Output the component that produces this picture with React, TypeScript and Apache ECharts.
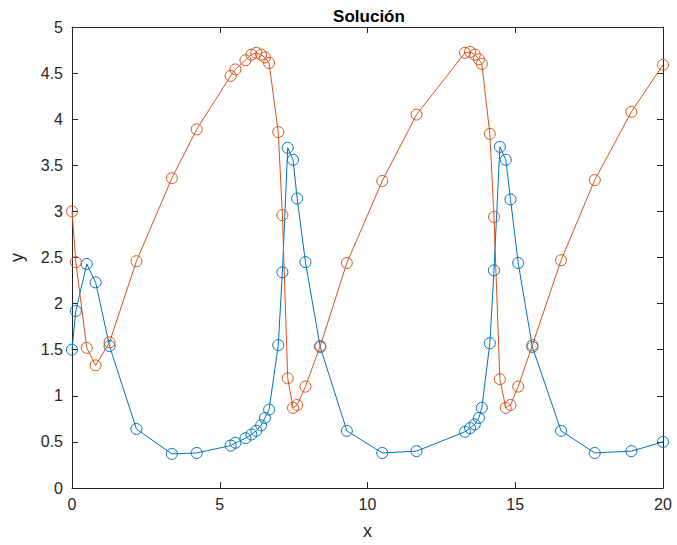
import React, { useEffect, useRef } from "react";
import * as echarts from "echarts";

const xValues = [
  0, 0.13, 0.5, 0.8, 1.27, 2.18, 3.38, 4.22, 5.37, 5.53, 5.87, 6.07, 6.24, 6.4,
  6.53, 6.67, 6.98, 7.12, 7.3, 7.48, 7.62, 7.9, 8.4, 9.3, 10.5, 11.66, 13.3,
  13.47, 13.63, 13.77, 13.87, 14.14, 14.28, 14.48, 14.68, 14.84, 15.1, 15.58,
  16.55, 17.69, 18.93, 20,
];
const y1Values = [
  1.5, 1.92, 2.43, 2.23, 1.54, 0.64, 0.37, 0.38, 0.46, 0.49, 0.54, 0.58, 0.62,
  0.68, 0.76, 0.85, 1.55, 2.34, 3.69, 3.56, 3.14, 2.45, 1.53, 0.62, 0.38, 0.4,
  0.61, 0.65, 0.69, 0.76, 0.87, 1.57, 2.36, 3.7, 3.56, 3.13, 2.44, 1.53, 0.62,
  0.38, 0.4, 0.5,
];
const y2Values = [
  3.0, 2.45, 1.52, 1.33, 1.58, 2.46, 3.36, 3.89, 4.47, 4.54, 4.64, 4.7, 4.72,
  4.7, 4.67, 4.61, 3.86, 2.96, 1.19, 0.87, 0.9, 1.1, 1.54, 2.44, 3.33, 4.05,
  4.72, 4.73, 4.7, 4.65, 4.6, 3.84, 2.94, 1.18, 0.87, 0.9, 1.1, 1.55, 2.47,
  3.34, 4.08, 4.59,
];

const BLUE = "#0072BD";
const ORANGE = "#D95319";
const AXIS = "#262626";
const FONT = "'Liberation Sans', Arial, sans-serif";

export default function App() {
  const ref = useRef<HTMLDivElement>(null);
  useEffect(() => {
    if (!ref.current) return;
    const chart = echarts.init(ref.current, undefined, { renderer: "svg" });
    const mk = (ys: number[], color: string) => ({
      type: "line",
      data: xValues.map((x, i) => [x, ys[i]]),
      symbol: "circle",
      symbolSize: 11,
      showSymbol: true,
      lineStyle: { color, width: 1 },
      itemStyle: { color: "rgba(0,0,0,0)", borderColor: color, borderWidth: 1 },
      emphasis: { disabled: true },
    });
    const axisBase = {
      axisLine: { show: true, onZero: false, lineStyle: { color: AXIS, width: 1 } },
      axisTick: { show: true, inside: true, length: 6, lineStyle: { color: AXIS } },
      splitLine: { show: false },
    };
    chart.setOption({
      animation: false,
      title: {
        text: "Solución",
        left: 364,
        textAlign: "center",
        top: 3,
        textStyle: { fontFamily: FONT, fontSize: 17, fontWeight: "bold", color: "#000" },
      },
      grid: { left: 66, right: 14, top: 27, bottom: 57 },
      xAxis: [
        {
          ...axisBase,
          type: "value",
          min: 0,
          max: 20,
          interval: 5,
          name: "x",
          nameLocation: "middle",
          nameGap: 34,
          nameTextStyle: { fontFamily: FONT, fontSize: 18, color: AXIS },
          axisLabel: { fontFamily: FONT, fontSize: 16, color: AXIS, margin: 8 },
        },
        {
          ...axisBase,
          type: "value",
          position: "top",
          min: 0,
          max: 20,
          interval: 5,
          axisLabel: { show: false },
        },
      ],
      yAxis: [
        {
          ...axisBase,
          type: "value",
          min: 0,
          max: 5,
          interval: 0.5,
          name: "y",
          nameLocation: "middle",
          nameGap: 46,
          nameTextStyle: { fontFamily: FONT, fontSize: 18, color: AXIS },
          axisLabel: { fontFamily: FONT, fontSize: 16, color: AXIS, margin: 9 },
        },
        {
          ...axisBase,
          type: "value",
          position: "right",
          min: 0,
          max: 5,
          interval: 0.5,
          axisLabel: { show: false },
        },
      ],
      series: [mk(y1Values, BLUE), mk(y2Values, ORANGE)],
    });
    return () => chart.dispose();
  }, []);
  return (
    <div
      ref={ref}
      style={{ position: "absolute", left: 0, top: 0, width: 677, height: 545 }}
    />
  );
}
